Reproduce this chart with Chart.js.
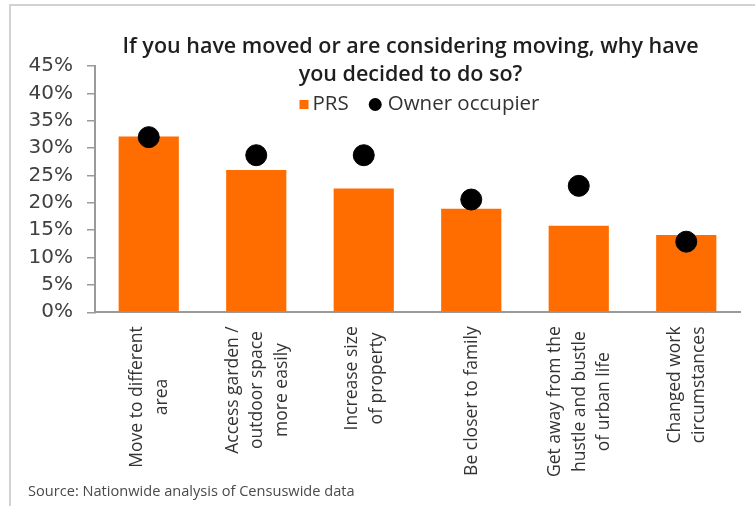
<!DOCTYPE html>
<html lang="en">
<head>
    <meta charset="UTF-8">
    <title>Reasons for moving</title>
    <script src="https://cdn.jsdelivr.net/npm/chart.js"></script>
    <style>
        body {
            margin: 0;
            background-color: white;
            font-family: 'Open Sans', sans-serif;
        }
        .container {
            position: relative;
            width: 755px;
            height: 506px;
            overflow: hidden;
        }
        .frame {
            position: absolute;
            left: 9px;
            top: 4px;
            right: -2px;
            bottom: -2px;
            border-top: 2px solid #d2d2d2;
            border-left: 2px solid #d2d2d2;
        }
        #movingChart {
            position: absolute;
            left: 0;
            top: 0;
        }
    </style>
</head>
<body>
    <div class="container">
        <div class="frame"></div>
        <canvas id="movingChart" width="755" height="506"></canvas>
    </div>

    <script>
        const reasons = [
            ['Move to different', 'area'],
            ['Access garden /', 'outdoor space', 'more easily'],
            ['Increase size', 'of property'],
            ['Be closer to family'],
            ['Get away from the', 'hustle and bustle', 'of urban life'],
            ['Changed work', 'circumstances']
        ];
        const prsValues = [32.1, 26.0, 22.6, 18.9, 15.8, 14.1];
        const ownerValues = [32.0, 28.7, 28.7, 20.6, 23.1, 12.9];
        const yTicks = [0, 5, 10, 15, 20, 25, 30, 35, 40, 45];

        const titleLines = [
            'If you have moved or are considering moving, why have',
            'you decided to do so?'
        ];
        const sourceText = 'Source: Nationwide analysis of Censuswide data';

        const FONT = "'Open Sans', sans-serif";

        // title, legend and the centred, rotated category labels
        const headerPlugin = {
            id: 'header',
            afterDraw(chart) {
                const ctx = chart.ctx;
                const area = chart.chartArea;
                const mid = (area.left + area.right) / 2;

                ctx.save();
                ctx.fillStyle = '#1e1e1e';
                ctx.font = '600 21.5px ' + FONT;
                ctx.textAlign = 'center';
                ctx.textBaseline = 'middle';
                titleLines.forEach((line, i) => {
                    ctx.fillText(line, mid - 7, 47 + i * 28);
                });

                // legend built from the datasets
                ctx.font = '20.5px ' + FONT;
                ctx.textAlign = 'left';
                const items = chart.data.datasets.map(ds => {
                    const round = ds.type === 'line';
                    return {
                        label: ds.label,
                        color: ds.backgroundColor,
                        round: round,
                        marker: round ? 19 : 13,
                        width: ctx.measureText(ds.label).width
                    };
                });
                const spacing = 20;
                let total = 0;
                items.forEach((it, i) => {
                    total += it.marker + it.width + (i > 0 ? spacing : 0);
                });
                let x = mid + 2 - total / 2;
                const ly = 104.5;
                items.forEach(it => {
                    ctx.fillStyle = it.color;
                    if (it.round) {
                        ctx.beginPath();
                        ctx.arc(x + 6.5, ly, 6.5, 0, Math.PI * 2);
                        ctx.fill();
                    } else {
                        ctx.fillRect(x, ly - 4.5, 9, 9);
                    }
                    ctx.fillStyle = '#333';
                    ctx.fillText(it.label, x + it.marker, ly);
                    x += it.marker + it.width + spacing;
                });

                // category labels, read bottom to top, lines centred on each other
                const xScale = chart.scales.x;
                ctx.font = '17.5px ' + FONT;
                ctx.fillStyle = '#333';
                ctx.textAlign = 'center';
                const lh = 24.5;
                reasons.forEach((lines, i) => {
                    const px = xScale.getPixelForValue(i);
                    const w = Math.max(...lines.map(l => ctx.measureText(l).width));
                    ctx.save();
                    ctx.translate(px + 1, xScale.top + 14);
                    ctx.rotate(-Math.PI / 2);
                    lines.forEach((l, k) => {
                        ctx.fillText(l, -w / 2, (k - (lines.length - 1) / 2) * lh);
                    });
                    ctx.restore();
                });
                ctx.restore();
            }
        };

        const ctx = document.getElementById('movingChart').getContext('2d');
        new Chart(ctx, {
            data: {
                labels: reasons,
                datasets: [
                    {
                        type: 'bar',
                        label: 'PRS',
                        data: prsValues,
                        backgroundColor: '#ff6d00',
                        barPercentage: 0.56,
                        categoryPercentage: 1.0,
                        order: 1
                    },
                    {
                        type: 'line',
                        label: 'Owner occupier',
                        data: ownerValues,
                        showLine: false,
                        backgroundColor: '#000000',
                        borderColor: '#000000',
                        pointRadius: 10.5,
                        pointHoverRadius: 10.5,
                        order: 0
                    }
                ]
            },
            plugins: [headerPlugin],
            options: {
                responsive: false,
                animation: false,
                layout: {
                    padding: { left: 28, right: 15, top: 66, bottom: 5 }
                },
                plugins: {
                    legend: { display: false },
                    tooltip: { enabled: false },
                    title: { display: false },
                    subtitle: {
                        display: true,
                        text: sourceText,
                        position: 'bottom',
                        align: 'start',
                        color: '#4a4a4a',
                        font: { family: FONT, size: 14.6 },
                        padding: 0
                    }
                },
                scales: {
                    x: {
                        grid: {
                            display: true,
                            drawOnChartArea: false,
                            drawTicks: false
                        },
                        border: { display: true, color: '#9a9a9a', width: 2 },
                        ticks: { display: false },
                        afterFit(scale) {
                            scale.height = 171.2;
                        }
                    },
                    y: {
                        min: 0,
                        max: 45,
                        afterBuildTicks(scale) {
                            scale.ticks = yTicks.map(v => ({ value: v }));
                        },
                        grid: {
                            drawOnChartArea: false,
                            drawTicks: true,
                            tickLength: 8,
                            color: '#9a9a9a',
                            lineWidth: 1.5
                        },
                        border: { display: true, color: '#9a9a9a', width: 2 },
                        ticks: {
                            autoSkip: false,
                            padding: 14,
                            color: '#404040',
                            font: { family: "'DejaVu Sans', sans-serif", size: 20 },
                            callback: v => v + '%'
                        },
                        afterFit(scale) {
                            scale.width = 67;
                        }
                    }
                }
            }
        });
    </script>
</body>
</html>
